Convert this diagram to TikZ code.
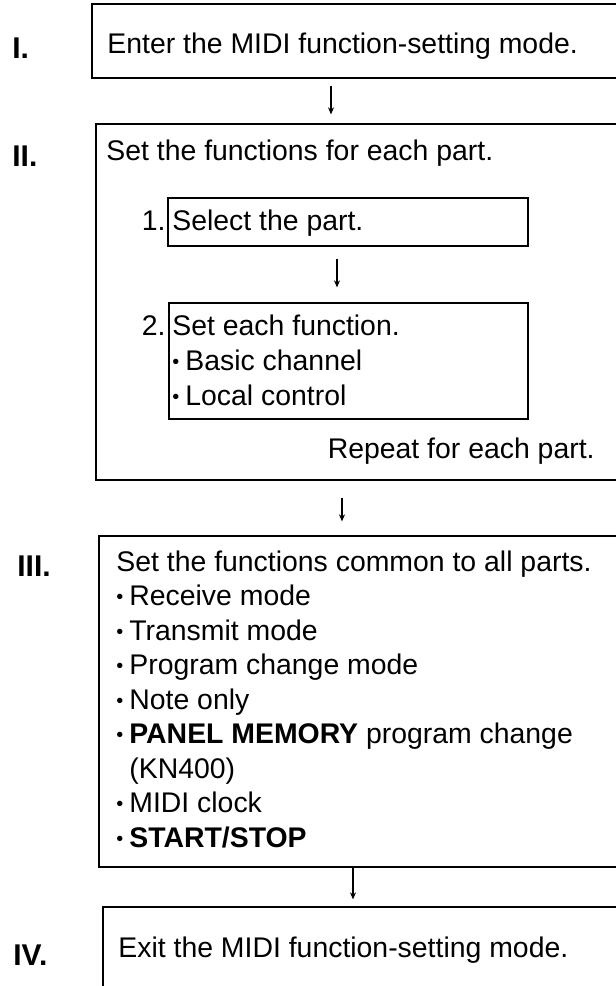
\documentclass[tikz,border=0pt]{standalone}
\usepackage{fontspec}
\setmainfont{Liberation Sans}
\usetikzlibrary{arrows.meta, positioning, fit}
\newcommand{\bul}{\makebox[6.5pt][l]{\raisebox{0.06em}{\scalebox{0.7}{\textbullet}}}}

\begin{document}
\begin{tikzpicture}[
    x=0.5pt, y=-0.5pt,
    stepbox/.style={rectangle, draw=black, line width=0.65pt, inner sep=0pt},
    txt/.style={anchor=base west, inner sep=0pt,
                font=\fontsize{14.2pt}{17pt}\selectfont},
    numlbl/.style={anchor=base west, inner sep=0pt,
                   font=\fontsize{15pt}{17pt}\selectfont\bfseries},
    sublbl/.style={txt, anchor=base east},
    flow/.style={-{Stealth[length=3.5pt,width=3pt]}, line width=0.6pt},
]
\useasboundingbox (0,0) rectangle (616,986);
\clip (0,0) rectangle (616,986);

%---------------------------------------------------------------
% I. enter the mode
%---------------------------------------------------------------
\node[stepbox, fit={(92,4) (630,78)}] (boxI) {};
\node[numlbl] (numI) at (12,58) {I.};
\node[txt] (txtI) at (107,53) {Enter the MIDI function-setting mode.};

%---------------------------------------------------------------
% II. per-part functions (two sub-steps inside)
%---------------------------------------------------------------
\node[stepbox, fit={(96,124) (630,480)}] (boxII) {};
\node[numlbl] (numII) at (12,166) {II.};
\node[txt] (txtII) at (106,160) {Set the functions for each part.};

\node[stepbox, fit={(168,198) (528,246)}] (sub1) {};
\node[sublbl] (num1) at (166,230) {1.};
\node[txt] (txt1) at (172,230) {Select the part.};

\node[stepbox, fit={(169,303) (528,419)}] (sub2) {};
\node[sublbl] (num2) at (166,335) {2.};
\foreach \t [count=\i from 0] in
    {Set each function., \bul Basic channel, \bul Local control} {
    \node[txt] (txt2\i) at (172, 335+\i*35) {\t};
}
\node[sublbl] (rep) at (595,458) {Repeat for each part.};

%---------------------------------------------------------------
% III. common functions
%---------------------------------------------------------------
\node[stepbox, fit={(99,536) (630,867)}] (boxIII) {};
\node[numlbl] (numIII) at (17,576) {III.};
\foreach \t [count=\i from 0] in
    {Set the functions common to all parts.,
     \bul Receive mode, \bul Transmit mode, \bul Program change mode,
     \bul Note only, \bul \textbf{PANEL MEMORY} program change,
     \hspace*{6.5pt}(KN400), \bul MIDI clock, \bul \textbf{START/STOP}} {
    \node[txt] (txt3\i) at (116, 571+\i*34.5) {\t};
}

%---------------------------------------------------------------
% IV. exit the mode (box runs off the page)
%---------------------------------------------------------------
\node[stepbox, fit={(103,907) (630,1000)}] (boxIV) {};
\node[numlbl] (numIV) at (13,965) {IV.};
\node[txt] (txtIV) at (118,957) {Exit the MIDI function-setting mode.};

% arrows between the steps
\draw[flow, shorten <=3.5pt, shorten >=4.5pt]
    ([xshift=-15pt]boxI.south) -- ([xshift=-15pt]boxI.south |- boxII.north);
\draw[flow, shorten <=6pt, shorten >=7.5pt]
    ([xshift=-5.5pt]sub1.south) -- ([xshift=-5.5pt]sub1.south |- sub2.north);
\draw[flow, shorten <=8.5pt, shorten >=7pt]
    ([xshift=-10.5pt]boxII.south) -- ([xshift=-10.5pt]boxII.south |- boxIII.north);
\draw[flow, shorten >=3.5pt]
    ([xshift=-5.75pt]boxIII.south) -- ([xshift=-5.75pt]boxIII.south |- boxIV.north);

\end{tikzpicture}
\end{document}
